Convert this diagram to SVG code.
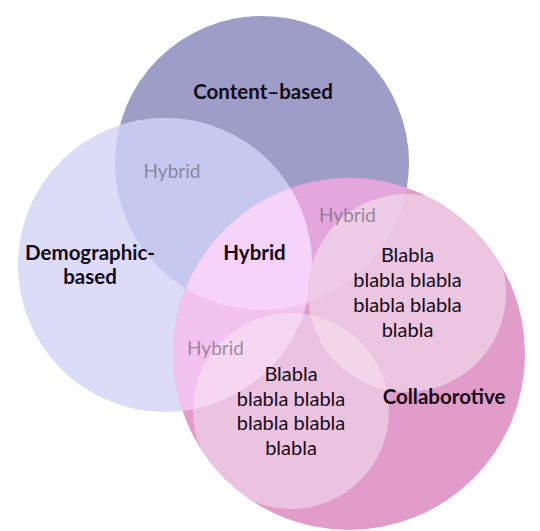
<svg xmlns="http://www.w3.org/2000/svg" xmlns:xlink="http://www.w3.org/1999/xlink" width="540" height="531" viewBox="0 0 540 531">
<style>
.lbl{font-family:Lato,"Open Sans","DejaVu Sans",sans-serif;font-weight:700;font-size:20.5px;fill:#140a18;text-anchor:middle}
.hyb{font-family:Lato,"Open Sans","DejaVu Sans",sans-serif;font-size:19px;fill:#5a5868;fill-opacity:0.6;text-anchor:middle}
.txt{font-family:Lato,"Open Sans","DejaVu Sans",sans-serif;font-size:20px;fill:#140a18;text-anchor:middle}
</style>
<defs>
<circle id="cC" cx="262" cy="163" r="147"/>
<circle id="cD" cx="165" cy="265" r="147"/>
<circle id="cP" cx="349" cy="354" r="176"/>
<circle id="cA" cx="407" cy="293" r="99"/>
<circle id="cB" cx="291" cy="411" r="98"/>
<clipPath id="clipC"><use xlink:href="#cC"/></clipPath>
<clipPath id="clipD"><use xlink:href="#cD"/></clipPath>
<clipPath id="clipP"><use xlink:href="#cP"/></clipPath>
<clipPath id="clipA"><use xlink:href="#cA"/></clipPath>
</defs>
<rect width="540" height="531" fill="#ffffff"/>
<g id="content">
<use xlink:href="#cC" fill="#9D9DC8"/>
</g>
<g id="demographic">
<use xlink:href="#cD" fill="#DCDCF8"/>
<g clip-path="url(#clipC)"><use xlink:href="#cD" fill="#C6C8EF"/></g>
</g>
<g id="collaborative">
<use xlink:href="#cP" fill="#E29CC9"/>
<g clip-path="url(#clipC)"><use xlink:href="#cP" fill="#E4A7DC"/></g>
<g clip-path="url(#clipD)"><use xlink:href="#cP" fill="#F2C3EE"/></g>
<g clip-path="url(#clipD)"><g clip-path="url(#clipC)"><use xlink:href="#cP" fill="#F6D3F8"/></g></g>
</g>
<g id="subA" clip-path="url(#clipP)">
<use xlink:href="#cA" fill="#ECC5E1"/>
<g clip-path="url(#clipC)"><use xlink:href="#cA" fill="#EECBE6"/></g>
</g>
<g id="subB" clip-path="url(#clipP)">
<use xlink:href="#cB" fill="#EBC3E0"/>
<g clip-path="url(#clipD)"><use xlink:href="#cB" fill="#F6D7F2"/></g>
<g clip-path="url(#clipA)"><use xlink:href="#cB" fill="#F3D6EA"/></g>
</g>
<g id="connectors"></g>
<g id="labels">
<text class="lbl" x="263" y="99">Content–based</text>
<text class="lbl" x="90" y="260">Demographic-</text>
<text class="lbl" x="90" y="284">based</text>
<text class="lbl" x="254.5" y="260">Hybrid</text>
<text class="lbl" x="444" y="404">Collaborotive</text>
<text class="hyb" x="172" y="178">Hybrid</text>
<text class="hyb" x="347.5" y="221.5">Hybrid</text>
<text class="hyb" x="215.5" y="355">Hybrid</text>
<text class="txt" x="407.5" y="262">Blabla</text>
<text class="txt" x="407.5" y="287">blabla blabla</text>
<text class="txt" x="407.5" y="312">blabla blabla</text>
<text class="txt" x="407.5" y="336.5">blabla</text>
<text class="txt" x="291" y="381">Blabla</text>
<text class="txt" x="291" y="405.5">blabla blabla</text>
<text class="txt" x="291" y="430">blabla blabla</text>
<text class="txt" x="291" y="454.5">blabla</text>
</g>
</svg>
